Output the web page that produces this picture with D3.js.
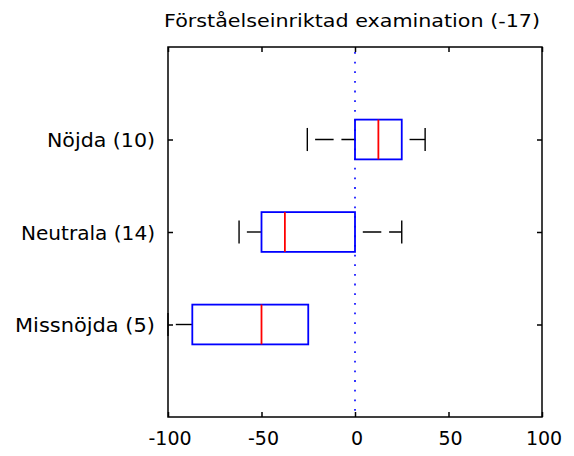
<!DOCTYPE html>
<html><head><meta charset="utf-8">
<script src="https://cdn.jsdelivr.net/npm/d3@7"></script>
<style>body{margin:0;background:#fff}svg{display:block}text{font-family:"DejaVu Sans",sans-serif;fill:#000}</style>
</head><body>
<svg id="c" width="574" height="456"></svg>
<script>
const title = "Förståelseinriktad examination (-17)";
const categories = ["Missnöjda (5)", "Neutrala (14)", "Nöjda (10)"];
const lowerWhisker = [-100, -62, -25.5];
const q1 = [-87, -50, 0];
const median = [-50, -37.5, 12.5];
const q3 = [-25, 0, 25];
const upperWhisker = [-25, 25, 37.5];
const xTicks = [-100, -50, 0, 50, 100];
const xTickLabels = ["-100", "-50", "0", "50", "100"];
const refLine = 0;
const labelWidths = [140, 134, 108];

const svg = d3.select("#c");
const L = 168, R = 542, T = 47, B = 417;
const FONT = '"DejaVu Sans",sans-serif';
const x = d3.scaleLinear().domain([-100, 100]).range([L, R]);
const y = d3.scaleLinear().domain([0, 4]).range([B, T]);
const pos = categories.map((c, i) => i + 1);
const boxHalf = 0.215, capHalf = 0.125;

// reference dotted line
svg.append("line").attr("x1", x(refLine)).attr("x2", x(refLine)).attr("y1", T + 5).attr("y2", B)
  .attr("stroke", "#0000ff").attr("stroke-width", 1.6).attr("stroke-dasharray", "1.8 7.85");

// whiskers (drawn left to right, gap first)
categories.forEach((c, i) => {
  const yc = y(pos[i]);
  const segs = [[lowerWhisker[i], q1[i]], [q3[i], upperWhisker[i]]];
  segs.forEach(([a, b]) => {
    if (b <= a) return;
    svg.append("line").attr("x1", x(a)).attr("x2", x(b)).attr("y1", yc).attr("y2", yc)
      .attr("stroke", "#000").attr("stroke-width", 1.4)
      .attr("stroke-dasharray", "18.5 7.8").attr("stroke-dashoffset", 18.5);
  });
  [lowerWhisker[i], upperWhisker[i]].forEach((v, k) => {
    if ((k === 0 && v >= q1[i]) || (k === 1 && v <= q3[i])) return;
    svg.append("line").attr("x1", x(v)).attr("x2", x(v))
      .attr("y1", y(pos[i] + capHalf)).attr("y2", y(pos[i] - capHalf))
      .attr("stroke", "#000").attr("stroke-width", 1.4);
  });
});

// boxes
categories.forEach((c, i) => {
  svg.append("rect").attr("x", x(q1[i])).attr("y", y(pos[i] + boxHalf))
    .attr("width", x(q3[i]) - x(q1[i])).attr("height", y(pos[i] - boxHalf) - y(pos[i] + boxHalf))
    .attr("fill", "none").attr("stroke", "#0000ff").attr("stroke-width", 1.8);
  svg.append("line").attr("x1", x(median[i])).attr("x2", x(median[i]))
    .attr("y1", y(pos[i] + boxHalf)).attr("y2", y(pos[i] - boxHalf))
    .attr("stroke", "#ff0000").attr("stroke-width", 1.8);
});

// frame
svg.append("rect").attr("x", L).attr("y", T).attr("width", R - L).attr("height", B - T)
  .attr("fill", "none").attr("stroke", "#000").attr("stroke-width", 1.5);

// axes
const xb = svg.append("g").attr("transform", `translate(0,${B})`)
  .call(d3.axisBottom(x).tickValues(xTicks).tickSizeInner(-5).tickSizeOuter(0).tickPadding(15)
    .tickFormat((d, i) => xTickLabels[i]));
const xt = svg.append("g").attr("transform", `translate(0,${T})`)
  .call(d3.axisTop(x).tickValues(xTicks).tickSizeInner(-5).tickSizeOuter(0).tickFormat(""));
const yl = svg.append("g").attr("transform", `translate(${L},0)`)
  .call(d3.axisLeft(y).tickValues(pos).tickSizeInner(-5).tickSizeOuter(0).tickPadding(13)
    .tickFormat((d, i) => categories[i]));
const yr = svg.append("g").attr("transform", `translate(${R},0)`)
  .call(d3.axisRight(y).tickValues(pos).tickSizeInner(-5).tickSizeOuter(0).tickFormat(""));
[xb, xt, yl, yr].forEach(g => {
  g.select(".domain").remove();
  g.selectAll(".tick line").attr("stroke", "#000").attr("stroke-width", 1.5);
  g.selectAll("text").style("font-family", FONT).attr("fill", "#000");
});
xb.selectAll("text").attr("font-size", 19).attr("dy", "0.71em").attr("dx", 1.5);
yl.selectAll("text").attr("font-size", 20).attr("dy", "0.36em")
  .attr("textLength", (d, i) => labelWidths[i]).attr("lengthAdjust", "spacingAndGlyphs");

// title
svg.append("text").attr("x", (164 + 540) / 2).attr("y", 27).attr("text-anchor", "middle")
  .style("font-family", FONT)
  .attr("font-size", 18.5).attr("textLength", 376).attr("lengthAdjust", "spacingAndGlyphs").text(title);
</script>
</body></html>
